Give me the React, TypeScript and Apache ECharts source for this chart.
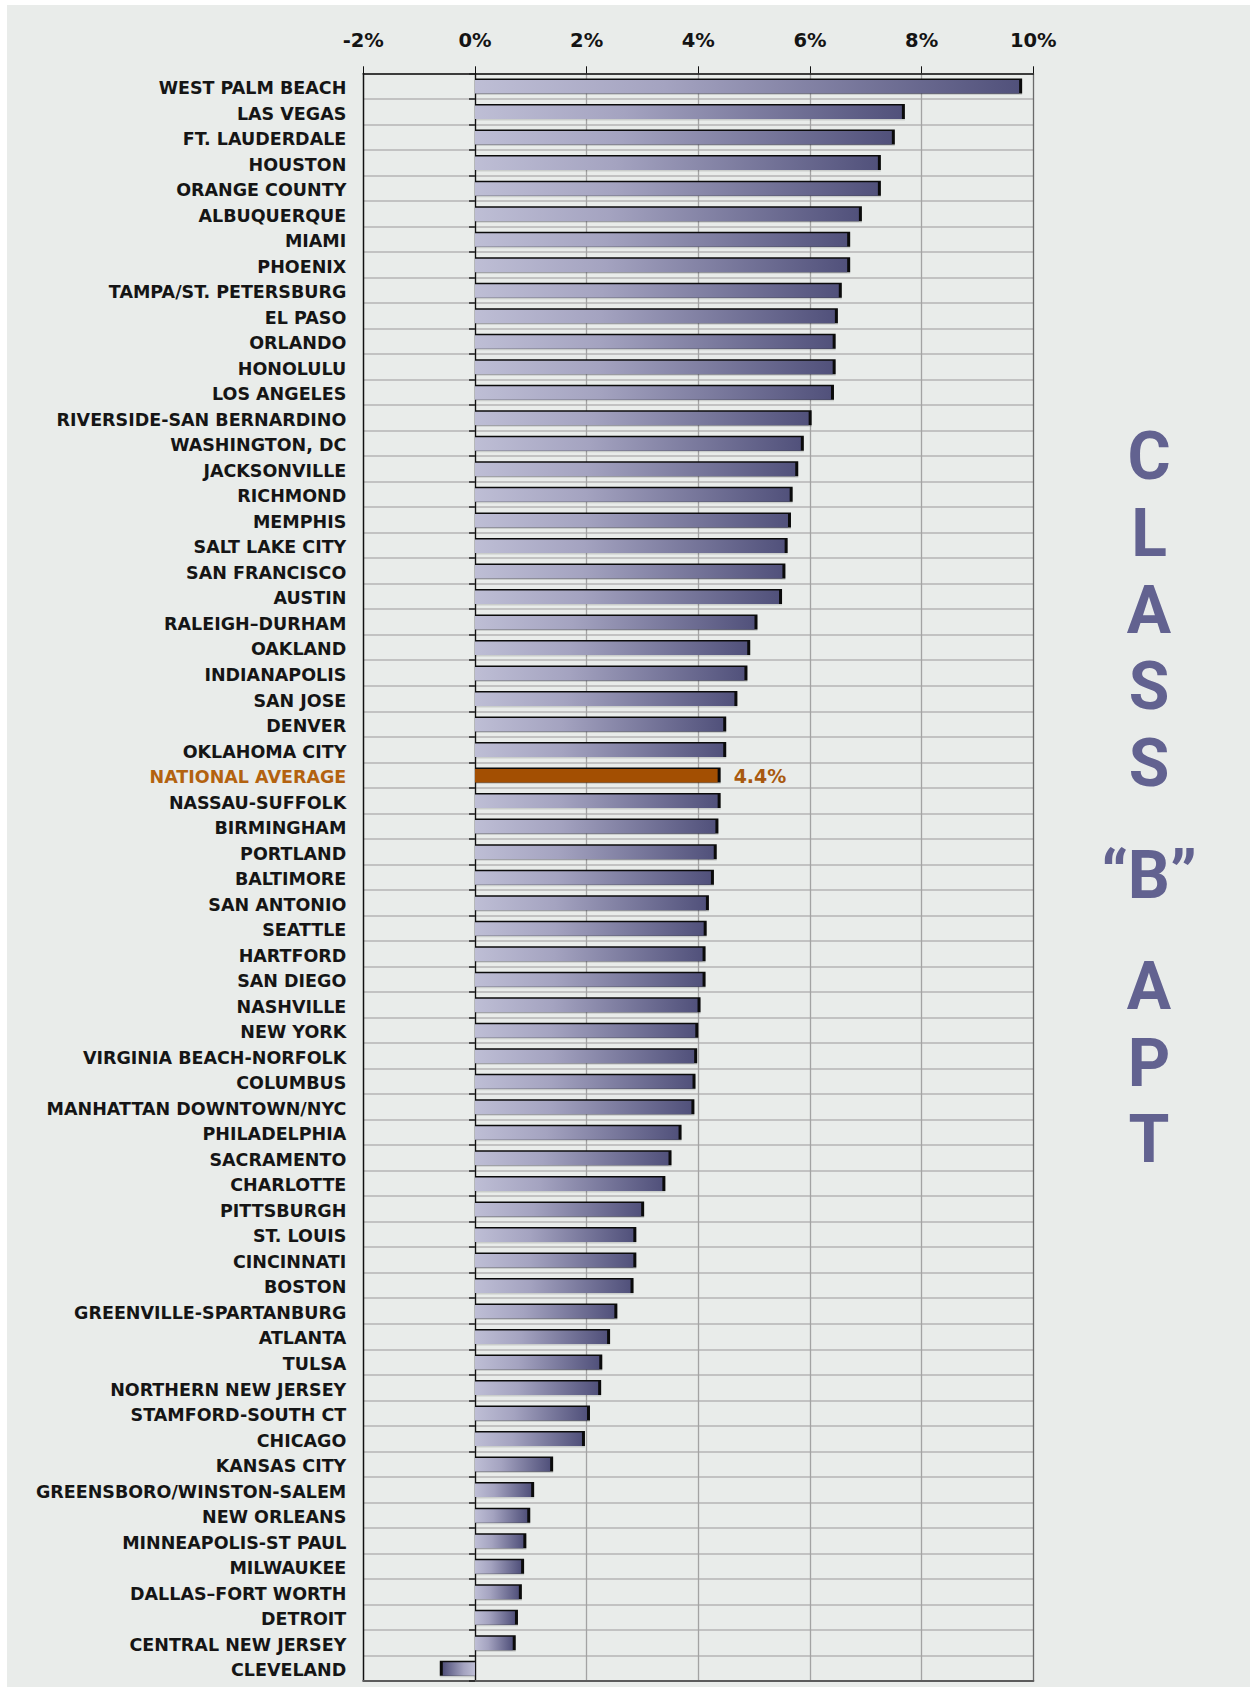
import React, { useEffect, useRef } from 'react';
import * as echarts from 'echarts';

const cities: string[] = [
  'WEST PALM BEACH', 'LAS VEGAS', 'FT. LAUDERDALE', 'HOUSTON', 'ORANGE COUNTY',
  'ALBUQUERQUE', 'MIAMI', 'PHOENIX', 'TAMPA/ST. PETERSBURG', 'EL PASO',
  'ORLANDO', 'HONOLULU', 'LOS ANGELES', 'RIVERSIDE-SAN BERNARDINO', 'WASHINGTON, DC',
  'JACKSONVILLE', 'RICHMOND', 'MEMPHIS', 'SALT LAKE CITY', 'SAN FRANCISCO',
  'AUSTIN', 'RALEIGH–DURHAM', 'OAKLAND', 'INDIANAPOLIS', 'SAN JOSE',
  'DENVER', 'OKLAHOMA CITY', 'NATIONAL AVERAGE', 'NASSAU-SUFFOLK', 'BIRMINGHAM',
  'PORTLAND', 'BALTIMORE', 'SAN ANTONIO', 'SEATTLE', 'HARTFORD',
  'SAN DIEGO', 'NASHVILLE', 'NEW YORK', 'VIRGINIA BEACH-NORFOLK', 'COLUMBUS',
  'MANHATTAN DOWNTOWN/NYC', 'PHILADELPHIA', 'SACRAMENTO', 'CHARLOTTE', 'PITTSBURGH',
  'ST. LOUIS', 'CINCINNATI', 'BOSTON', 'GREENVILLE-SPARTANBURG', 'ATLANTA',
  'TULSA', 'NORTHERN NEW JERSEY', 'STAMFORD-SOUTH CT', 'CHICAGO', 'KANSAS CITY',
  'GREENSBORO/WINSTON-SALEM', 'NEW ORLEANS', 'MINNEAPOLIS-ST PAUL', 'MILWAUKEE', 'DALLAS–FORT WORTH',
  'DETROIT', 'CENTRAL NEW JERSEY', 'CLEVELAND',
];

const growth: number[] = [
  9.80, 7.70, 7.52, 7.27, 7.27,
  6.93, 6.72, 6.72, 6.57, 6.50,
  6.46, 6.46, 6.43, 6.03, 5.89,
  5.79, 5.69, 5.66, 5.60, 5.56,
  5.50, 5.06, 4.93, 4.88, 4.70,
  4.50, 4.50, 4.40, 4.40, 4.36,
  4.33, 4.28, 4.19, 4.15, 4.13,
  4.13, 4.04, 4.00, 3.98, 3.95,
  3.93, 3.70, 3.52, 3.41, 3.03,
  2.89, 2.89, 2.84, 2.55, 2.42,
  2.28, 2.26, 2.06, 1.97, 1.40,
  1.06, 0.99, 0.92, 0.88, 0.84,
  0.77, 0.73, -0.63,
];

const AVERAGE_LABEL = 'NATIONAL AVERAGE';
const axisMin = -2;
const axisMax = 10;
const axisStep = 2;
const sideTitle: string[] = ['C', 'L', 'A', 'S', 'S', '“B”', 'A', 'P', 'T'];

const FONT = "'DejaVu Sans', sans-serif";

export default function App() {
  const ref = useRef<HTMLDivElement>(null);

  useEffect(() => {
    if (!ref.current) return;
    const chart = echarts.init(ref.current, undefined, { renderer: 'svg' });

    const titleY = [451.5, 528, 605, 681.7, 758, 870, 981, 1058.5, 1134.5];

    const option: any = {
      animation: false,
      backgroundColor: '#e9ecea',
      grid: { left: 356.3, right: 216.7, top: 68.3, bottom: 6, containLabel: false },
      xAxis: [
        {
          type: 'value',
          position: 'top',
          min: axisMin,
          max: axisMax,
          interval: axisStep,
          axisLine: { show: true, onZero: false, lineStyle: { color: '#111', width: 1.5 } },
          axisTick: { show: true, length: 7, lineStyle: { color: '#111', width: 1 } },
          axisLabel: {
            formatter: (v: number) => `${v}%`,
            fontFamily: FONT,
            fontWeight: 'bold',
            fontSize: 19.5,
            color: '#141414',
            margin: 23,
          },
          splitLine: {
            show: true,
            lineStyle: {
              color: ['#111', '#a3a3a3', '#a3a3a3', '#a3a3a3', '#a3a3a3', '#a3a3a3', '#6a6a6a'],
              width: 1.3,
            },
          },
        },
        {
          type: 'value',
          position: 'bottom',
          min: axisMin,
          max: axisMax,
          interval: axisStep,
          axisLine: { show: true, onZero: false, lineStyle: { color: '#5c5c5c', width: 2.2 } },
          axisTick: { show: false },
          axisLabel: { show: false },
          splitLine: { show: false },
        },
      ],
      yAxis: [
        {
          type: 'category',
          data: cities,
          inverse: true,
          position: 'left',
          axisLine: { show: true, onZero: false, lineStyle: { color: '#111', width: 1.2 } },
          axisTick: { show: false },
          axisLabel: {
            fontFamily: FONT,
            fontWeight: 'bold',
            fontSize: 17.5,
            color: '#151515',
            margin: 17,
            padding: [4, 0, 0, 0],
            formatter: (v: string) => (v === AVERAGE_LABEL ? `{avg|${v}}` : v),
            rich: {
              avg: {
                fontFamily: FONT,
                fontWeight: 'bold',
                fontSize: 17.5,
                color: '#b3620f',
              },
            },
          },
          splitLine: { show: true, lineStyle: { color: '#b5b5b5', width: 1.5 } },
        },
        {
          type: 'category',
          data: cities,
          inverse: true,
          position: 'left',
          axisLine: { show: true, onZero: true, lineStyle: { color: '#111', width: 1.3 } },
          axisTick: { show: true, length: 6, lineStyle: { color: '#222', width: 1.5 } },
          axisLabel: { show: false },
          splitLine: { show: false },
        },
      ],
      series: [
        {
          type: 'custom',
          xAxisIndex: 0,
          yAxisIndex: 0,
          encode: { x: 0, y: 1 },
          data: growth.map((v, i) => [v, i]),
          z: 5,
          renderItem: (params: any, api: any) => {
            const val = api.value(0) as number;
            const idx = api.value(1) as number;
            const p0 = api.coord([0, idx]);
            const p1 = api.coord([val, idx]);
            const h = 15;
            const top = p0[1] - h / 2;
            const neg = val < 0;
            const xl = Math.min(p0[0], p1[0]);
            const w = Math.abs(p1[0] - p0[0]);
            const isAvg = cities[params.dataIndex] === AVERAGE_LABEL;
            const fill = isAvg
              ? '#a34f02'
              : new echarts.graphic.LinearGradient(neg ? 1 : 0, 0, neg ? 0 : 1, 0, [
                  { offset: 0, color: '#bebed5' },
                  { offset: 0.35, color: '#a4a3c0' },
                  { offset: 1, color: '#51517b' },
                ]);
            const children: any[] = [
              {
                type: 'rect',
                shape: { x: xl, y: top + 1.5, width: w, height: h },
                style: { fill: 'rgba(0,0,0,0.13)' },
              },
              {
                type: 'rect',
                shape: { x: xl, y: top, width: w, height: h },
                style: { fill: '#0b0b0b' },
              },
              {
                type: 'rect',
                shape: { x: neg ? xl + 3 : xl, y: top + 1.5, width: Math.max(w - 3, 0), height: h - 1.5 },
                style: { fill },
              },
            ];
            if (isAvg) {
              children.push({
                type: 'text',
                x: p1[0] + 13,
                y: p0[1] + 1,
                style: {
                  text: `${val.toFixed(1)}%`,
                  fontFamily: FONT,
                  fontWeight: 'bold',
                  fontSize: 19,
                  fill: '#a8590f',
                  align: 'left',
                  verticalAlign: 'middle',
                },
              });
            }
            return { type: 'group', children };
          },
        },
      ],
      graphic: sideTitle.map((t, i) => ({
        type: 'text',
        x: 1142,
        y: titleY[i],
        style: {
          text: t,
          fontFamily: 'Roboto, sans-serif',
          fontWeight: 'bold',
          fontSize: 66,
          fill: '#626290',
          align: 'center',
          verticalAlign: 'middle',
          textAlign: 'center',
          textVerticalAlign: 'middle',
        },
      })),
    };

    chart.setOption(option);
    return () => chart.dispose();
  }, []);

  return (
    <div
      ref={ref}
      style={{ position: 'absolute', left: 7, top: 5, width: 1243, height: 1682, background: '#e9ecea' }}
    />
  );
}
